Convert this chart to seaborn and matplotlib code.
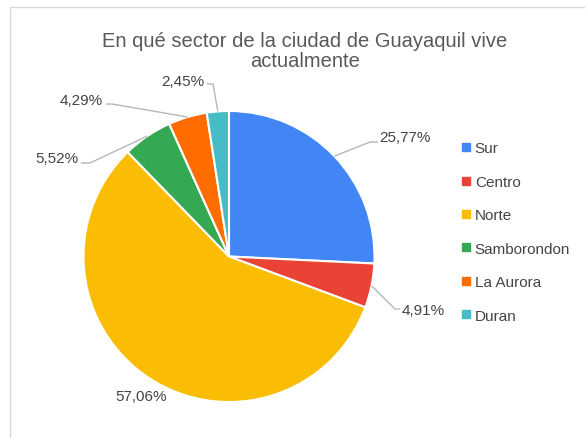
import matplotlib
matplotlib.use('Agg')
import matplotlib.pyplot as plt
import seaborn as sns
import numpy as np
from matplotlib.lines import Line2D
from matplotlib.patches import Rectangle

# ---- data ----
sectors = ['Sur', 'Centro', 'Norte', 'Samborondon', 'La Aurora', 'Duran']
shares = [25.77, 4.91, 57.06, 5.52, 4.29, 2.45]
share_labels = ['25,77%', '4,91%', '57,06%', '5,52%', '4,29%', '2,45%']
colors = ['#4285F4', '#EA4335', '#FBBC04', '#34A853', '#FF6D01', '#46BDC6']
title = 'En qué sector de la ciudad de Guayaquil vive\nactualmente'

sns.set_theme(style='white')
plt.rcParams['font.family'] = ['Liberation Sans', 'DejaVu Sans']

W, H = 585, 439
fig = plt.figure(figsize=(W / 100, H / 100), dpi=100)
fig.patch.set_facecolor('white')

# chart border (light gray, cut off at right/bottom)
fig.patches.append(Rectangle((9.5 / W, -0.1), 1.2, 1.1 - 7.5 / H,
                             transform=fig.transFigure, fill=False,
                             edgecolor='#d9d9d9', linewidth=1.0))

cx, cy, r = 229, 257.5, 145.5
ax = fig.add_axes([(cx - r) / W, (H - cy - r) / H, 2 * r / W, 2 * r / H])
wedges, _ = ax.pie(shares, colors=colors, startangle=90, counterclock=False,
                   wedgeprops=dict(edgecolor='white', linewidth=1.5))
ax.set_xlim(-1, 1)
ax.set_ylim(-1, 1)
ax.set_aspect('auto')

# label layout: (elbow, line end, text pos, ha) in radius units
layout = [
    ((0.969, 0.787), (1.024, 0.787), (1.031, 0.821), 'left'),
    ((1.141, -0.361), (1.175, -0.361), (1.189, -0.368), 'left'),
    (None, None, (-0.605, -0.959), 'center'),
    ((-0.955, 0.643), (-1.017, 0.643), (-1.038, 0.677), 'right'),
    ((-0.804, 1.048), (-0.845, 1.048), (-0.866, 1.076), 'right'),
    ((-0.110, 1.186), (-0.151, 1.186), (-0.172, 1.206), 'right'),
]
for w, lab, (elb, end, tp, ha) in zip(wedges, share_labels, layout):
    ang = np.deg2rad((w.theta1 + w.theta2) / 2)
    ex, ey = np.cos(ang), np.sin(ang)
    if elb is not None:
        ax.plot([ex, elb[0], end[0]], [ey, elb[1], end[1]], color='#b7b7b7',
                linewidth=1.0, clip_on=False, solid_capstyle='butt')
    ax.text(tp[0], tp[1], lab, ha=ha, va='center', fontsize=11,
            color='#444444', clip_on=False)

fig.text(305 / W, 1 - 51.5 / H, title, ha='center', va='center', fontsize=14.5,
         color='#595959', linespacing=1.1)

handles = [Line2D([], [], marker='s', linestyle='none', markersize=5.5,
                  markerfacecolor=c, markeredgecolor=c) for c in colors]
fig.legend(handles, sectors, loc='center left',
           bbox_to_anchor=(461 / W, 1 - 233 / H), frameon=False,
           fontsize=11, labelcolor='#444444', handlelength=0.7,
           handletextpad=0.2, borderpad=0, borderaxespad=0,
           labelspacing=1.27)

fig.savefig('out.png', dpi=100, facecolor='white')
